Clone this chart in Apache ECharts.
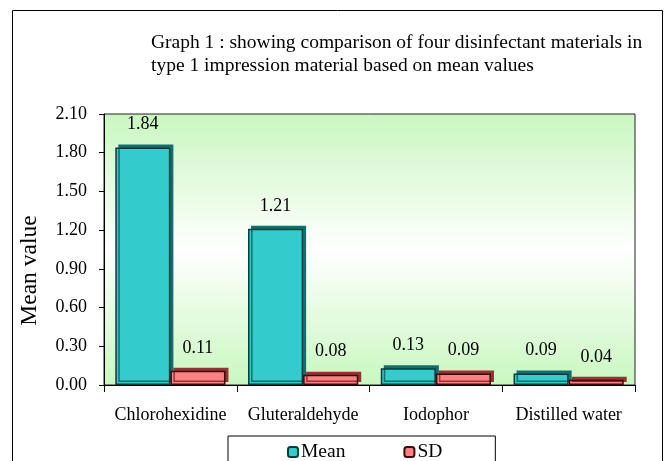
<!DOCTYPE html>
<html><head><meta charset="utf-8">
<script src="https://cdn.jsdelivr.net/npm/echarts@6/dist/echarts.min.js"></script>
<style>html,body{margin:0;padding:0;background:#fff}#c{width:670px;height:461px}</style>
</head><body><div id="c"></div>
<script>
const categories = ['Chlorohexidine', 'Gluteraldehyde', 'Iodophor', 'Distilled water'];
const meanValues = [1.84, 1.21, 0.13, 0.09];
const sdValues = [0.11, 0.08, 0.09, 0.04];
const yTicks = ['0.00','0.30','0.60','0.90','1.20','1.50','1.80','2.10'];

const serif = '"Liberation Serif", "DejaVu Serif", serif';
const chart = echarts.init(document.getElementById('c'));
const labelCfg = {show: true, position: 'top', distance: 14, color: '#000', fontFamily: serif, fontSize: 18, formatter: p => p.value.toFixed(2)};
chart.setOption({
  animation: false,
  backgroundColor: '#fff',
  title: {
    text: 'Graph 1 : showing comparison of four disinfectant materials in\ntype 1 impression material based on mean values',
    left: 146, top: 26,
    textStyle: {fontFamily: serif, fontSize: 19.5, fontWeight: 'normal', color: '#000', lineHeight: 23}
  },
  graphic: [{type: 'rect', shape: {x: 12.5, y: 10.5, width: 650, height: 470}, style: {fill: 'none', stroke: '#000', lineWidth: 1}, z: -10}],
  legend: {
    data: ['Mean', 'SD'], top: 436, left: 228,
    itemGap: 58, itemWidth: 10, itemHeight: 10, padding: [6, 53, 20, 59],
    borderColor: '#000', borderWidth: 1, backgroundColor: '#fff',
    textStyle: {fontFamily: serif, fontSize: 19.5, color: '#000', padding: [0, 0, 0, -2]}
  },
  grid: {
    left: 104, right: 35, top: 114, bottom: 76, show: true,
    borderColor: '#222', borderWidth: 1,
    backgroundColor: new echarts.graphic.LinearGradient(0, 0, 0, 1, [
      {offset: 0, color: '#c9f7c0'}, {offset: 0.5, color: '#ffffff'}, {offset: 1, color: '#c9f7c0'}
    ])
  },
  xAxis: {
    type: 'category', data: categories,
    axisLine: {lineStyle: {color: '#000'}},
    axisTick: {show: true, length: 7, lineStyle: {color: '#000'}},
    axisLabel: {fontFamily: serif, fontSize: 18, color: '#000', margin: 21, interval: 0, hideOverlap: false}
  },
  yAxis: {
    type: 'value', min: 0, max: 2.1, interval: 0.3,
    name: 'Mean value', nameLocation: 'middle', nameGap: 62,
    nameTextStyle: {fontFamily: serif, fontSize: 23.5, color: '#000', padding: [0, 42, 0, 0]},
    axisLine: {show: true, lineStyle: {color: '#000'}},
    axisTick: {show: true, length: 5, lineStyle: {color: '#000'}},
    splitLine: {show: false},
    axisLabel: {fontFamily: serif, fontSize: 18, color: '#000', margin: 17, formatter: (v) => yTicks[Math.round(v / 0.3)]}
  },
  series: [
    {name: 'Mean', type: 'bar', data: meanValues, barGap: '0%', barCategoryGap: '17%',
     itemStyle: {color: '#33CCCC', borderColor: '#0a3b3b', borderWidth: 1.5, shadowColor: 'rgba(20,110,110,1)', shadowOffsetX: 3, shadowOffsetY: -3, shadowBlur: 0},
     label: labelCfg},
    {name: 'SD', type: 'bar', data: sdValues,
     itemStyle: {color: '#FF8080', borderColor: '#3b0a0a', borderWidth: 1.5, shadowColor: 'rgba(150,50,50,1)', shadowOffsetX: 3, shadowOffsetY: -3, shadowBlur: 0},
     label: labelCfg}
  ]
});
</script></body></html>
